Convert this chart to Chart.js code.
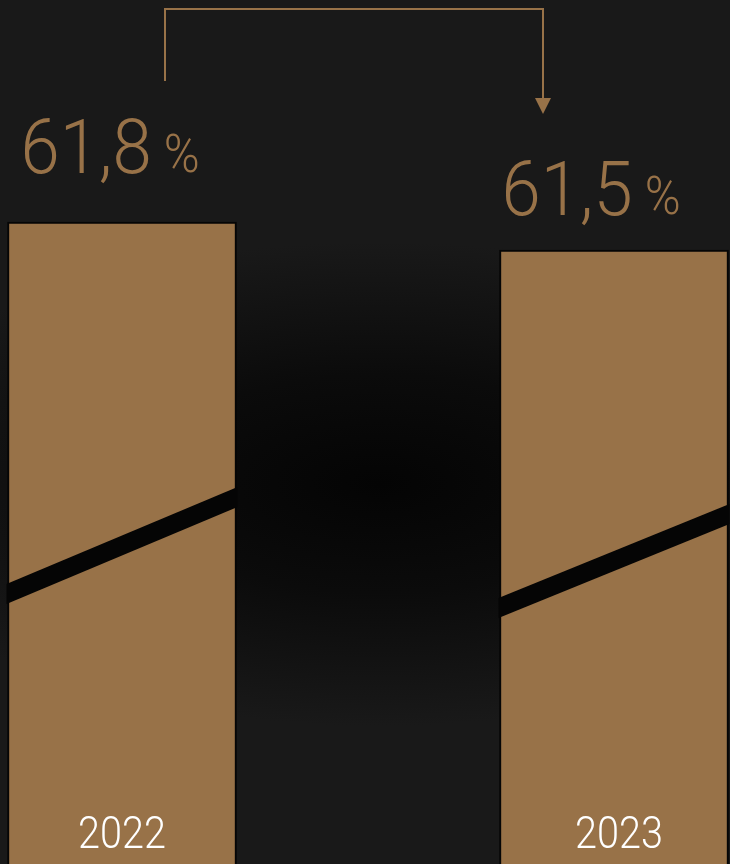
<!DOCTYPE html>
<html lang="de">
<head>
  <meta charset="UTF-8">
  <title>Quote 2022 / 2023</title>
  <style>
    /* page + dark vignette background */
    html, body {
      margin: 0;
      padding: 0;
      width: 730px;
      height: 864px;
      overflow: hidden;
    }
    body {
      background: radial-gradient(ellipse 75% 28% at 52% 56%, #040404 0%, #0b0b0b 45%, #191919 100%);
    }
    #wrap {
      width: 730px;
      height: 864px;
    }
  </style>
</head>
<body>
  <div id="wrap">
    <canvas id="chart" width="730" height="864"></canvas>
  </div>

  <script src="https://cdn.jsdelivr.net/npm/chart.js"></script>
  <script>
    // data
    const years = ['2022', '2023'];
    const shares = [61.8, 61.5];
    // truncated axis (bars are shown with a break)
    const axisMin = 54.92;
    const axisMax = 64.18;

    const gold = '#987248';
    const edge = '#050505';

    function fmt(v) {
      return v.toFixed(1).replace('.', ',');
    }

    // draws the diagonal "break" band across each bar
    const breakPlugin = {
      id: 'barBreak',
      afterDatasetsDraw(chart, args, opts) {
        const ctx = chart.ctx;
        const bars = chart.getDatasetMeta(0).data;
        ctx.save();
        bars.forEach((bar, i) => {
          const half = bar.width / 2 + 1;
          const yl = opts.left[i], yr = opts.right[i];
          ctx.beginPath();
          ctx.moveTo(bar.x - half, yl);
          ctx.lineTo(bar.x + half, yr);
          ctx.lineTo(bar.x + half, yr + opts.gap);
          ctx.lineTo(bar.x - half, yl + opts.gap);
          ctx.closePath();
          ctx.fillStyle = edge;
          ctx.fill();
        });
        ctx.restore();
      }
    };

    // value labels, year labels and the arrow between the bars
    const labelPlugin = {
      id: 'labels',
      afterDraw(chart, args, opts) {
        const ctx = chart.ctx;
        const bars = chart.getDatasetMeta(0).data;
        ctx.save();

        bars.forEach((bar, i) => {
          // value "61,8 %"
          const num = fmt(shares[i]);
          const cx = bar.x + opts.dx[i];
          const by = bar.y + opts.dy[i];
          ctx.fillStyle = gold;
          ctx.textBaseline = 'alphabetic';
          ctx.font = '300 76px Roboto';
          const wNum = ctx.measureText(num).width * 0.93;
          ctx.font = '300 54px Roboto';
          const wPct = ctx.measureText('%').width * 0.9;
          const total = wNum + 12 + wPct;
          let x = cx - total / 2;

          ctx.save();
          ctx.translate(x, by);
          ctx.scale(0.93, 1);
          ctx.font = '300 76px Roboto';
          ctx.textAlign = 'left';
          ctx.fillText(num, 0, 0);
          ctx.restore();

          ctx.save();
          ctx.translate(x + wNum + 12, by - 1);
          ctx.scale(0.9, 1);
          ctx.font = '300 54px Roboto';
          ctx.textAlign = 'left';
          ctx.fillText('%', 0, 0);
          ctx.restore();

          // year inside bar
          ctx.save();
          ctx.translate(bar.x + opts.yearDx[i], 848);
          ctx.scale(0.9, 1);
          ctx.font = '300 44px Roboto';
          ctx.textAlign = 'center';
          ctx.fillStyle = '#ffffff';
          ctx.fillText(years[i], 0, 0);
          ctx.restore();
        });

        // connector arrow from 2022 to 2023
        const b0 = bars[0], b1 = bars[1];
        const x0 = b0.x + 43, x1 = b1.x - 71;
        const top = 9;
        ctx.strokeStyle = gold;
        ctx.lineWidth = 2;
        ctx.beginPath();
        ctx.moveTo(x0, 81);
        ctx.lineTo(x0, top);
        ctx.lineTo(x1, top);
        ctx.lineTo(x1, 100);
        ctx.stroke();
        ctx.fillStyle = gold;
        ctx.beginPath();
        ctx.moveTo(x1 - 8, 98);
        ctx.lineTo(x1 + 8, 98);
        ctx.lineTo(x1, 114);
        ctx.closePath();
        ctx.fill();

        ctx.restore();
      }
    };

    new Chart(document.getElementById('chart'), {
      type: 'bar',
      data: {
        labels: years,
        datasets: [{
          data: shares,
          backgroundColor: gold,
          borderColor: edge,
          borderWidth: 2,
          borderSkipped: 'start',
          barThickness: 229,
          clip: false
        }]
      },
      options: {
        responsive: false,
        animation: false,
        layout: {
          padding: { left: 122, right: 116, top: 0, bottom: 0 }
        },
        plugins: {
          legend: { display: false },
          tooltip: { enabled: false },
          barBreak: { left: [584, 598], right: [487, 504], gap: 20 },
          labels: { dx: [-12, -23], dy: [-49, -35], yearDx: [0, 5] }
        },
        scales: {
          x: {
            display: false,
            offset: false,
            grid: { display: false }
          },
          y: {
            display: false,
            min: axisMin,
            max: axisMax,
            grid: { display: false }
          }
        }
      },
      plugins: [breakPlugin, labelPlugin]
    });
  </script>
</body>
</html>
